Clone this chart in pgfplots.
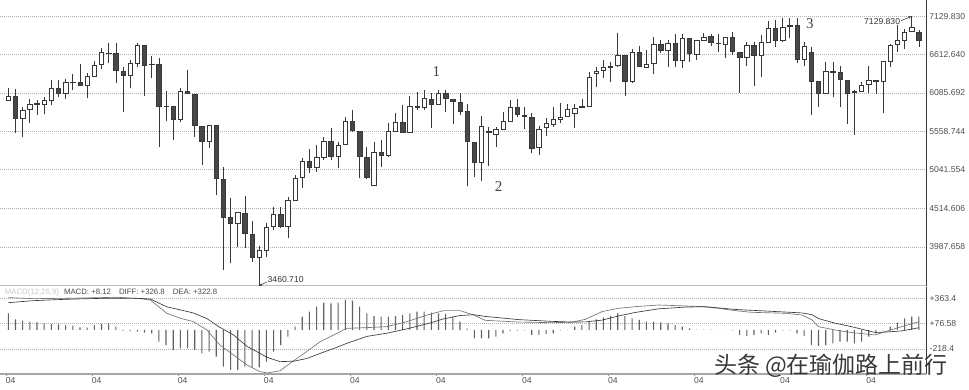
\documentclass[border=0pt]{standalone}
\usepackage{pgfplots}
\pgfplotsset{compat=1.18}
\usepackage{pgfplotstable}
\usepackage{fontspec}
\setmainfont{Liberation Sans}
\newfontfamily\serifdigits{Liberation Serif}
\newfontfamily\cjk{Noto Sans CJK SC}
\usetikzlibrary{arrows.meta}
\definecolor{cedge}{HTML}{383838}
\definecolor{cdark}{HTML}{484848}
\definecolor{gridc}{HTML}{B0B0B0}
\definecolor{labc}{HTML}{505050}

\pgfplotstableread{
i o h l c
0 5980 6149 5975 6035
1 6035 6136 5536 5741
2 5741 5891 5490 5854
3 5863 5999 5673 5936
4 5930 5990 5786 5940
5 5931 6035 5795 5990
6 5980 6262 5922 6149
7 6144 6262 6035 6081
8 6081 6272 6004 6231
9 6226 6344 6126 6236
10 6226 6476 6190 6194
11 6190 6362 6013 6317
12 6317 6521 6307 6467
13 6476 6694 6408 6634
14 6622 6770 6490 6630
15 6626 6770 6217 6389
16 6385 6444 5831 6331
17 6331 6535 6149 6490
18 6490 6770 6444 6739
19 6739 6745 6045 6457
20 6480 6589 6286 6472
21 6476 6558 5354 5899
22 5900 6113 5708 5908
23 5899 5903 5445 5727
24 5722 6149 5694 6103
25 6109 6392 6065 6079
26 6068 6072 5490 5650
27 5636 5640 5098 5425
28 5434 5654 5332 5650
29 5650 5654 4696 4924
30 4914 5077 3675 4396
31 4390 4655 3766 4311
32 4311 4465 3992 4458
33 4447 4689 3970 4174
34 4165 4342 3777 3848
35 3848 4001 3460.71 3947
36 3947 4319 3856 4256
37 4264 4537 4219 4433
38 4433 4537 4242 4264
39 4264 4673 4106 4628
40 4628 4969 4620 4924
41 4937 5196 4787 5150
42 5150 5316 4992 5073
43 5073 5377 5013 5214
44 5214 5486 5173 5432
45 5432 5605 5173 5218
46 5218 5422 5060 5377
47 5384 5754 5373 5694
48 5694 5854 5558 5581
49 5568 5572 4924 5218
50 5207 5346 4910 4937
51 4823 5422 4819 5272
52 5278 5445 5082 5241
53 5241 5673 5218 5558
54 5564 5809 5558 5686
55 5686 5922 5546 5550
56 5547 6045 5540 5908
57 5895 6103 5854 5903
58 5891 6126 5854 6013
59 6004 6089 5613 5931
60 5931 6126 5922 6085
61 6085 6126 5831 6017
62 6004 6008 5663 5976
63 5959 6089 5786 5840
64 5840 5931 4812 5422
65 5418 5422 4945 5146
66 5146 5772 4887 5626
67 5550 5626 5091 5558
68 5524 5626 5354 5592
69 5592 5822 5581 5694
70 5694 5990 5690 5891
71 5891 6004 5763 5795
72 5780 5899 5595 5772
73 5754 5809 5264 5327
74 5340 5640 5241 5591
75 5618 5749 5500 5673
76 5659 5891 5626 5728
77 5731 5953 5673 5754
78 5763 5931 5760 5867
79 5803 5931 5615 5877
80 5896 6004 5892 5906
81 5908 6375 5899 6294
82 6354 6444 6163 6385
83 6389 6535 6290 6430
84 6440 6514 6239 6448
85 6457 6898 6444 6593
86 6593 6597 6045 6239
87 6239 6681 6217 6640
88 6634 6719 6440 6444
89 6435 6671 6432 6480
90 6490 6844 6340 6749
91 6749 6807 6634 6671
92 6661 6807 6435 6762
93 6762 6889 6435 6535
94 6535 6889 6422 6830
95 6830 6834 6512 6626
96 6617 6811 6535 6807
97 6798 6898 6794 6844
98 6852 6885 6725 6770
99 6766 6885 6648 6758
100 6753 6848 6558 6844
101 6839 6912 6603 6648
102 6634 6638 6081 6572
103 6572 6784 6453 6730
104 6730 6784 6181 6593
105 6593 6875 6307 6770
106 6776 7066 6772 6967
107 6967 7080 6716 6798
108 6798 7103 6784 6975
109 6988 7111 6830 7012
110 7002 7103 6490 6548
111 6544 6776 6453 6716
112 6640 6716 5786 6249
113 6249 6253 5899 6081
114 6081 6512 6077 6375
115 6379 6503 6035 6371
116 6367 6457 5899 6272
117 6262 6266 5663 6081
118 6106 6126 5513 6100
119 6113 6231 6095 6185
120 6204 6453 6081 6253
121 6245 6262 6068 6253
122 6249 6516 5809 6512
123 6512 6749 6444 6739
124 6749 7012 6648 6798
125 6807 6957 6681 6912
126 6930 7129.83 6926 6975
127 6912 6943 6708 6807
}\ohlc

\pgfplotstableread{
i v
0 371
3.5 359
8.1 363
12.8 371
15.1 375
18.4 359
19.8 344
22.1 191
24 133
25.8 95
27.7 -1
29.5 -173
31.4 -288
33.3 -404
35.1 -480
36.1 -495
37.9 -470
39.3 -384
41.6 -250
43.5 -135
45.4 -58
47.2 18
50 26
52.8 37
55.6 95
58.4 171
60.7 221
63 221
64.9 171
66.5 110
71.2 90
75.8 83
78.6 88
80.5 122
82.8 210
85.1 248
87.4 267
90.7 286
94.4 275
96.7 267
99.1 248
101.4 221
103.7 202
108.4 191
110.7 171
112.1 114
113 37
115.3 -1
117.7 -32
120.9 -58
122.3 -20
124.6 37
127 95
}\diffdata

\pgfplotstableread{
i v
0 313
3.5 336
8.1 352
12.8 362
17.4 365
19.8 355
22.1 265
24 230
25.8 195
27.7 130
29.5 30
31.4 -58
33.3 -190
35.1 -270
36.1 -315
37.9 -365
39.8 -360
41.6 -330
43.5 -270
45.4 -213
47.2 -155
50 -75
52.8 -38
55.6 12
58.4 70
60.7 126
63 165
64.9 175
66.5 155
71.2 118
75.8 98
78.6 90
80.5 92
82.8 112
85.1 160
87.4 200
90.7 242
94.4 262
97.2 267
99.1 252
101.4 235
103.7 225
108.4 205
110.7 195
112.1 175
113 130
115.3 77
117.7 35
120.9 -30
122.3 -25
124.6 -12
127 25
}\deadata

\pgfplotstableread{
i m
0 190
1 121
2 106
3 95
4 87
5 75
6 68
7 64
8 56
9 49
10 30
11 26
12 56
13 68
14 75
15 37
16 -9
17 -13
18 -20
19 -32
20 -40
21 -135
22 -174
23 -231
24 -212
25 -212
26 -231
27 -270
28 -250
29 -308
30 -423
31 -461
32 -461
33 -423
34 -430
35 -430
36 -365
37 -250
38 -174
39 -78
40 37
41 152
42 210
43 267
44 313
45 305
46 313
47 344
48 336
49 267
50 190
51 159
52 152
53 152
54 159
55 171
56 190
57 210
58 210
59 198
60 190
61 183
62 152
63 95
64 15
65 -97
66 -97
67 -97
68 -78
69 -40
70 -8
71 -8
72 -5
73 -58
74 -58
75 -47
76 -40
77 -5
78 -3
79 37
80 56
81 95
82 121
83 144
84 159
85 190
86 159
87 133
88 114
89 95
90 95
91 87
92 75
93 56
94 37
95 18
96 4
97 3
98 3
99 -4
100 -4
101 -5
102 -58
103 -70
104 -58
105 -40
106 -58
107 -32
108 -5
109 -5
110 -40
111 -70
112 -174
113 -185
114 -174
115 -155
116 -135
117 -135
118 -155
119 -135
120 -78
121 -40
122 -5
123 37
124 83
125 133
126 152
127 152
}\histdata

% candle mark: drawn at the open; wick and body heights in pt
\pgfdeclareplotmark{candle}{%
  \pgfsetlinewidth{0.7pt}%
  \pgfsetstrokecolor{cedge}%
  \pgfpathmoveto{\pgfpoint{0pt}{\cLo pt}}%
  \pgfpathlineto{\pgfpoint{0pt}{\cHi pt}}%
  \pgfusepathqstroke
  \ifdim\cBody pt>0pt \pgfsetfillcolor{white}\else\pgfsetfillcolor{cdark}\fi
  \pgfsetlinewidth{0.6pt}%
  \pgfpathrectangle{\pgfpoint{-2.2pt}{0pt}}{\pgfpoint{4.4pt}{\cBody pt}}%
  \pgfusepathqfillstroke
}

\begin{document}
\begin{tikzpicture}
\path[use as bounding box] (0,0) rectangle (969pt,390pt);

% ---------------- price panel ----------------
\begin{axis}[
  at={(0pt,104pt)}, anchor=south west, scale only axis,
  width=926pt, height=286pt,
  xmin=-1.158, xmax=127.99, ymin=3457, ymax=7352,
  axis x line=none, axis y line=right, axis line style={-},
  y axis line style={draw=cedge, line width=0.9pt},
  ytick={7129.83,6612.64,6085.692,5558.744,5041.554,4514.606,3987.658},
  yticklabels={7129.830,6612.640,6085.692,5558.744,5041.554,4514.606,3987.658},
  yticklabel style={font=\fontsize{8.6}{9}\selectfont, text=labc, inner sep=0pt, xshift=1pt},
  ytick style={draw=none},
  ymajorgrids, grid style={gridc, dash pattern=on 0.8pt off 1.2pt, line width=0.6pt},
]
\addplot[scatter, only marks, mark=candle,
  scatter/use mapped color={draw=cedge, fill=white},
  visualization depends on={(\thisrow{c}-\thisrow{o})*0.0734275 \as \cBody},
  visualization depends on={(\thisrow{l}-\thisrow{o})*0.0734275 \as \cLo},
  visualization depends on={(\thisrow{h}-\thisrow{o})*0.0734275 \as \cHi},
] table[x=i, y=o] {\ohlc};

\draw[black!25, line width=1.8pt] (rel axis cs:0,0) -- (rel axis cs:1,0);

\node[font=\serifdigits\fontsize{15}{15}\selectfont, text=black!75] at (axis cs:59.7,6371) {1};
\node[font=\serifdigits\fontsize{15}{15}\selectfont, text=black!75] at (axis cs:68.4,4812) {2};
\node[font=\serifdigits\fontsize{15}{15}\selectfont, text=black!75] at (axis cs:111.8,7025) {3};

\node[anchor=west, inner sep=0pt, font=\fontsize{8.6}{9}\selectfont, text=black!80] at (axis cs:36.15,3548) {3460.710};
\draw[black!80, line width=0.5pt, -{Stealth[length=2.5pt,width=2.5pt]}] (axis cs:36.1,3515) -- (axis cs:35.05,3462);

\node[anchor=east, inner sep=0pt, font=\fontsize{8.6}{9}\selectfont, text=black!80] at (axis cs:124.4,7056) {7129.830};
\draw[black!80, line width=0.5pt, -{Stealth[length=2.5pt,width=2.5pt]}] (axis cs:124.5,7070) -- (axis cs:125.9,7127);
\end{axis}

% ---------------- MACD panel ----------------
\begin{axis}[
  at={(0pt,16pt)}, anchor=south west, scale only axis,
  width=926pt, height=87pt,
  xmin=-1.158, xmax=127.99, ymin=-507, ymax=493,
  axis x line=bottom, axis y line=right, axis line style={-},
  x axis line style={draw=black!35, line width=1.2pt},
  y axis line style={draw=cedge, line width=0.9pt},
  ytick={363.4,76.58,-218.4}, yticklabels={+363.4,+76.58,-218.4},
  yticklabel style={font=\fontsize{8.6}{9}\selectfont, text=labc, inner sep=0pt, xshift=1pt},
  ytick style={draw=none},
  xtick={-0.3,11.7,23.7,35.7,47.7,59.7,71.7,83.7,95.7,107.7,119.7},
  xticklabels={04,04,04,04,04,04,04,04,04,04,04},
  xticklabel style={anchor=north west, font=\fontsize{8.6}{9}\selectfont, text=labc, inner sep=0pt, yshift=-1pt, xshift=-0.5pt},
  xtick style={draw=black!45, line width=0.5pt}, major tick length=2.5pt, tick align=outside,
  ymajorgrids, grid style={gridc, dash pattern=on 0.8pt off 1.2pt, line width=0.6pt},
]
\addplot[ybar, bar shift=0pt, bar width=1.1pt, fill=black!62, draw=none] table[x=i, y=m] {\histdata};
\addplot[black!55, line width=0.65pt] table[x=i, y=v] {\diffdata};
\addplot[black!78, line width=0.65pt] table[x=i, y=v] {\deadata};
\node[anchor=west, inner sep=0pt, font=\fontsize{7.8}{9}\selectfont, text=black!70] at (rel axis cs:0.005,0.94)
  {{\color{black!22}MACD(12,26,9)}\hspace{5pt}MACD: +8.12\hspace{8pt}DIFF: +326.8\hspace{8pt}DEA: +322.8};
\end{axis}

\node[font=\cjk\fontsize{23}{23}\selectfont, text=black!78, inner sep=0pt] at (831pt,24pt) {头条 @在瑜伽路上前行};
\end{tikzpicture}
\end{document}
